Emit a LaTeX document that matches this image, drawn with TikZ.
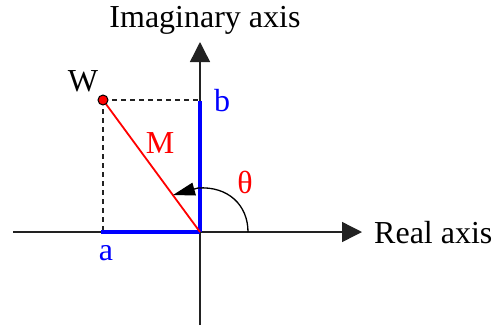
\documentclass[tikz,border=0pt]{standalone}
\usepackage{fontspec}
\setmainfont{Liberation Serif}
\usetikzlibrary{arrows.meta}
\definecolor{axgray}{HTML}{222222}
\definecolor{pblue}{HTML}{0000FF}
\definecolor{pred}{HTML}{FF0000}
\tikzset{
  axis/.style={draw=axgray, line width=1.4pt, -{Triangle[length=20pt,width=20pt]}},
  bluepart/.style={draw=pblue, line width=3.2pt},
  redline/.style={draw=pred, line width=1.8pt},
  proj/.style={draw=axgray, line width=1.3pt, dash pattern=on 5pt off 4pt},
  arcarrow/.style={draw=black, line width=1.3pt, -{Triangle[length=22pt,width=13pt]}},
  lbl/.style={font=\rmfamily\fontsize{32}{36}\selectfont, inner sep=0pt},
}
\begin{document}
\begin{tikzpicture}[x=1pt,y=-1pt]
\useasboundingbox (0,0) rectangle (497,325);
\coordinate (O) at (200,232);
\coordinate (L) at (13,232);
\coordinate (R) at (362,232);
\coordinate (D) at (200,325);
\coordinate (U) at (200,42);
\coordinate (W) at (103,100);
\coordinate (A) at (101,232);
\coordinate (B) at (200,100);
\coordinate (Bt) at (200,101);
\coordinate (Ae) at (103,232);
% axes
\draw[axis] (L) -- (R);
\draw[axis] (D) -- (U);
% projections
\draw[proj] (W) -- (B);
\draw[proj] (W) -- (Ae);
% blue components
\draw[bluepart] (A) -- (O);
\draw[bluepart] (O) -- (Bt);
% magnitude
\draw[redline] (W) -- (O);
% angle arc
\coordinate (T0) at (248,232);
\coordinate (T1) at (198,188);
\coordinate (T2) at (173,195);
\draw[arcarrow] (T0) .. controls (248,205) and (228,186) .. (T1) -- (T2);
% point
\node[circle, fill=pred, draw=black, line width=1pt, minimum size=10pt, inner sep=0pt] (Wpt) at (W) {};
% labels
\node[lbl] (imag) at (205,20) {Imaginary axis};
\node[lbl, anchor=west] (real) at (374,233) {Real axis};
\node[lbl] (wl) at (83,81) {W};
\node[lbl, text=pblue] (bl) at (222,101) {b};
\node[lbl, text=pblue] (al) at (106,253) {a};
\node[lbl, text=pred] (ml) at (160,143) {M};
\node[lbl, text=pred] (tl) at (245,182) {θ};
\end{tikzpicture}
\end{document}
